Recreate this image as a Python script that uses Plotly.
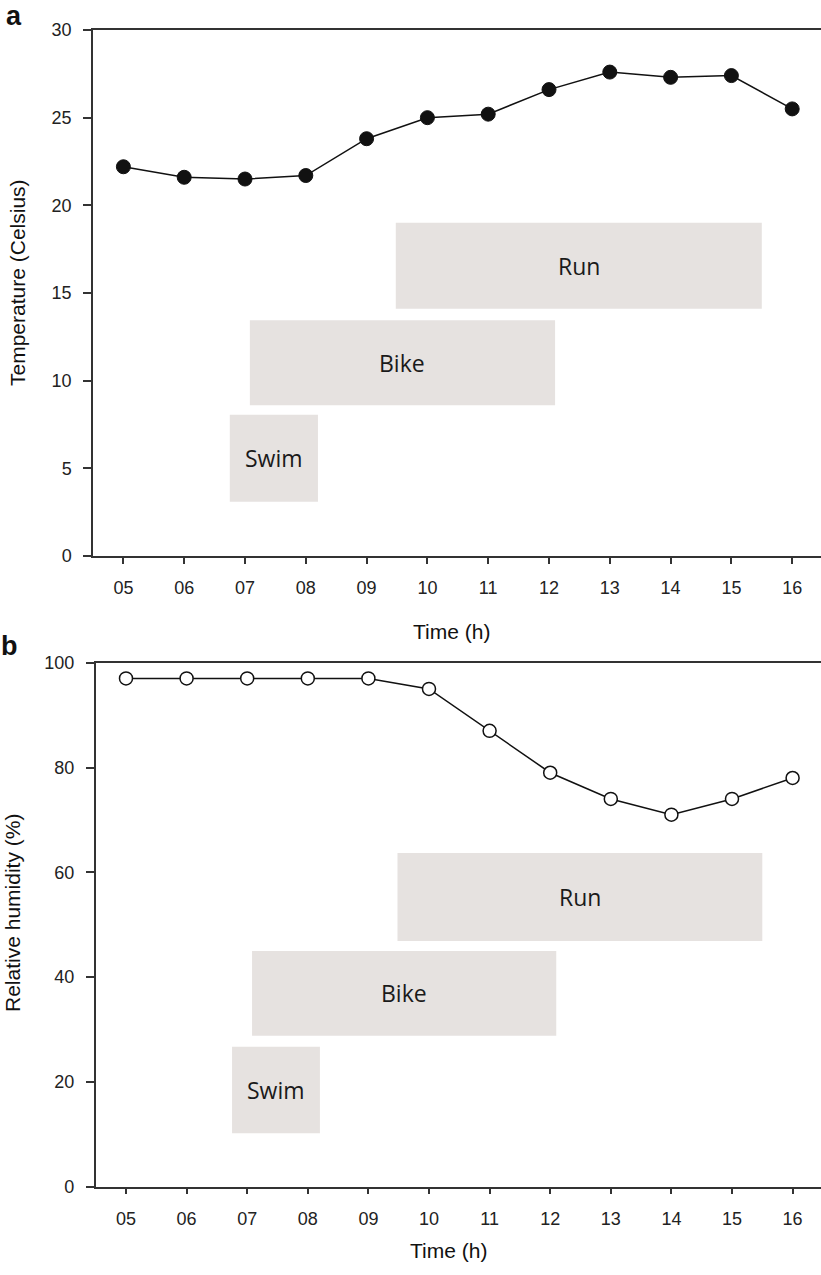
import plotly.graph_objects as go

hours = [5, 6, 7, 8, 9, 10, 11, 12, 13, 14, 15, 16]
hour_labels = ["05", "06", "07", "08", "09", "10", "11", "12", "13", "14", "15", "16"]
temperature = [22.2, 21.6, 21.5, 21.7, 23.8, 25.0, 25.2, 26.6, 27.6, 27.3, 27.4, 25.5]
humidity = [97, 97, 97, 97, 97, 95, 87, 79, 74, 71, 74, 78]

activities = ["Swim", "Bike", "Run"]
act_start = [6.75, 7.08, 9.48]
act_end = [8.2, 12.1, 15.5]
temp_low = [3.1, 8.6, 14.1]
temp_high = [8.05, 13.45, 19.0]
hum_low = [10.2, 28.8, 46.9]
hum_high = [26.7, 45.0, 63.7]

W, H = 821, 1275
BOX = "#e6e2e0"
AX = "#333333"
TICKFONT = dict(family="Liberation Sans, Arial, sans-serif", size=18, color="#222")
LABFONT = dict(family="Open Sans, Noto Sans, sans-serif", size=23, color="#1a1a1a")
TITLEFONT = dict(family="Liberation Sans, Arial, sans-serif", size=21, color="#111")
LETTERFONT = dict(family="Liberation Sans, Arial, sans-serif", size=27, color="#111")

fig = go.Figure()

fig.add_trace(go.Scatter(x=hours, y=temperature, mode="lines+markers",
                         line=dict(color="#111", width=1.5),
                         marker=dict(size=14, color="#111", line=dict(color="#111", width=1)),
                         xaxis="x", yaxis="y", showlegend=False))
fig.add_trace(go.Scatter(x=hours, y=humidity, mode="lines+markers",
                         line=dict(color="#111", width=1.5),
                         marker=dict(size=13, color="white", line=dict(color="#111", width=1.5)),
                         xaxis="x2", yaxis="y2", showlegend=False))

shapes = []
annotations = []
for name, s, e, lo, hi, lo2, hi2 in zip(activities, act_start, act_end, temp_low, temp_high, hum_low, hum_high):
    shapes.append(dict(type="rect", xref="x", yref="y", x0=s, x1=e, y0=lo, y1=hi,
                       fillcolor=BOX, line=dict(width=0), layer="below"))
    shapes.append(dict(type="rect", xref="x2", yref="y2", x0=s, x1=e, y0=lo2, y1=hi2,
                       fillcolor=BOX, line=dict(width=0), layer="below"))
    annotations.append(dict(x=(s + e) / 2, y=(lo + hi) / 2, xref="x", yref="y", text=name,
                            showarrow=False, font=LABFONT))
    annotations.append(dict(x=(s + e) / 2, y=(lo2 + hi2) / 2, xref="x2", yref="y2", text=name,
                            showarrow=False, font=LABFONT))


def paper(px, py):
    return dict(x=px / W, y=1 - py / H, xref="paper", yref="paper", showarrow=False,
                xanchor="center", yanchor="middle")


annotations += [
    dict(paper(14, 16), text="<b>a</b>", font=LETTERFONT),
    dict(paper(9, 646), text="<b>b</b>", font=LETTERFONT),
    dict(paper(451, 632), text="Time (h)", font=TITLEFONT),
    dict(paper(449, 1250), text="Time (h)", font=TITLEFONT),
    dict(paper(18, 283), text="Temperature (Celsius)", textangle=-90, font=TITLEFONT),
    dict(paper(12, 913), text="Relative humidity (%)", textangle=-90, font=TITLEFONT),
]

xcommon = dict(tickmode="array", tickvals=hours, ticktext=hour_labels, ticks="outside",
               ticklen=6, tickwidth=1.5, tickcolor=AX, showline=True, linecolor=AX, linewidth=1.5,
               mirror=True, showgrid=False, zeroline=False, tickfont=TICKFONT,
               ticklabelstandoff=9, automargin=False)
ycommon = dict(ticks="outside", ticklen=8, tickwidth=1.5, tickcolor=AX, showline=True,
               linecolor=AX, linewidth=1.5, showgrid=False, zeroline=False, tickfont=TICKFONT,
               ticklabelstandoff=8, automargin=False)

fig.update_layout(
    width=W, height=H, margin=dict(l=0, r=0, t=0, b=0, pad=0),
    paper_bgcolor="white", plot_bgcolor="white",
    xaxis=dict(xcommon, domain=[93 / W, 1], range=[4.5, 4.5 + (W - 93) / 60.8], anchor="y"),
    yaxis=dict(ycommon, domain=[1 - 556 / H, 1 - 30 / H], range=[0, 30], dtick=5, anchor="x"),
    xaxis2=dict(xcommon, domain=[95.7 / W, 1], range=[4.5, 4.5 + (W - 95.7) / 60.6], anchor="y2"),
    yaxis2=dict(ycommon, domain=[1 - 1186.7 / H, 1 - 662.7 / H], range=[0, 100], dtick=20,
                anchor="x2"),
    shapes=shapes, annotations=annotations,
)

fig.write_html("out.html", config={"displayModeBar": False},
               post_script="document.body.style.margin='0';")
